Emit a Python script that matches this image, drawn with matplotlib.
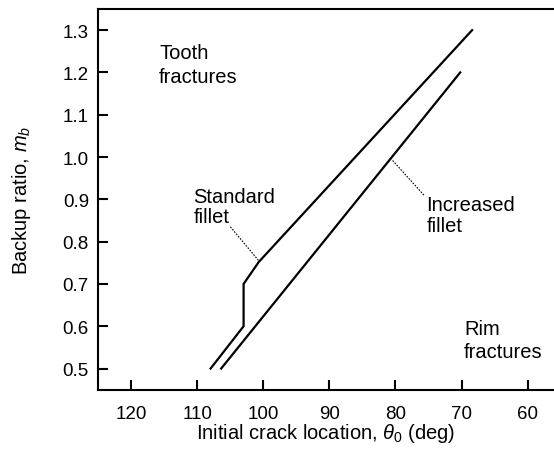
"""
Backup ratio vs. initial crack location: boundary between tooth and rim
fractures for the standard and the increased fillet.
"""

import matplotlib

matplotlib.use("Agg")
import matplotlib.pyplot as plt

plt.rcParams["font.family"] = ["Liberation Sans", "DejaVu Sans"]
plt.rcParams["mathtext.fontset"] = "custom"
plt.rcParams["mathtext.rm"] = "Liberation Sans"
plt.rcParams["mathtext.it"] = "Liberation Sans:italic"

# Boundary curves (theta in deg, m_b)
std_theta = [108.0, 103.0, 103.0, 100.7, 68.4]
std_mb = [0.50, 0.60, 0.70, 0.752, 1.30]
inc_theta = [106.4, 70.2]
inc_mb = [0.50, 1.20]

x_ticks = [120, 110, 100, 90, 80, 70, 60]
y_ticks = [0.5, 0.6, 0.7, 0.8, 0.9, 1.0, 1.1, 1.2, 1.3]

# Labels: text, left edge, baseline of the last line, line spacing
labels = ["Tooth\nfractures", "Rim\nfractures", "Standard\nfillet", "Increased\nfillet"]
label_pos = [(115.8, 1.178), (69.6, 0.528), (110.6, 0.847), (75.3, 0.824)]
label_spacing = [1.3, 1.23, 1.08, 1.18]
# Dotted leaders from the fillet labels to their curves
leaders = [((105.0, 0.835), (100.6, 0.753)), ((75.7, 0.910), (80.5, 0.993))]

W, H = 554, 452
fig = plt.figure(figsize=(W / 100, H / 100), dpi=100)
left, right, bottom, top = 98.3, 554, 390.7, 10
ax = fig.add_axes([left / W, 1 - bottom / H, (right - left) / W, (bottom - top) / H])

ax.plot(std_theta, std_mb, color="black", lw=1.6, solid_joinstyle="miter")
ax.plot(inc_theta, inc_mb, color="black", lw=1.6)

ax.set_xlim(125, 56)
ax.set_ylim(0.45, 1.35)
ax.set_xticks(x_ticks)
ax.set_yticks(y_ticks)
ax.set_yticklabels([f"{v:.1f}" for v in y_ticks])

ax.spines["right"].set_visible(False)
for side in ["left", "bottom", "top"]:
    ax.spines[side].set_linewidth(1.5)

ax.tick_params(direction="in", length=7, width=1.5, labelsize=13.5)
ax.tick_params(axis="x", pad=11)
ax.tick_params(axis="y", pad=6.7)

ax.set_xlabel(r"Initial crack location, $\theta_0$ (deg)", fontsize=14.5)
ax.set_ylabel(r"Backup ratio, $m_b$", fontsize=14.5)
ax.xaxis.set_label_coords(0.5, -0.082)
ax.yaxis.set_label_coords(-0.144, 0.5)

for text, (tx, ty), ls in zip(labels, label_pos, label_spacing):
    ax.text(tx, ty, text, fontsize=14.5, va="baseline", ha="left", linespacing=ls)

for (x0, y0), (x1, y1) in leaders:
    ax.plot([x0, x1], [y0, y1], color="black", lw=0.8, linestyle=(0, (1.5, 1.2)))

fig.savefig("out.png", dpi=100)
